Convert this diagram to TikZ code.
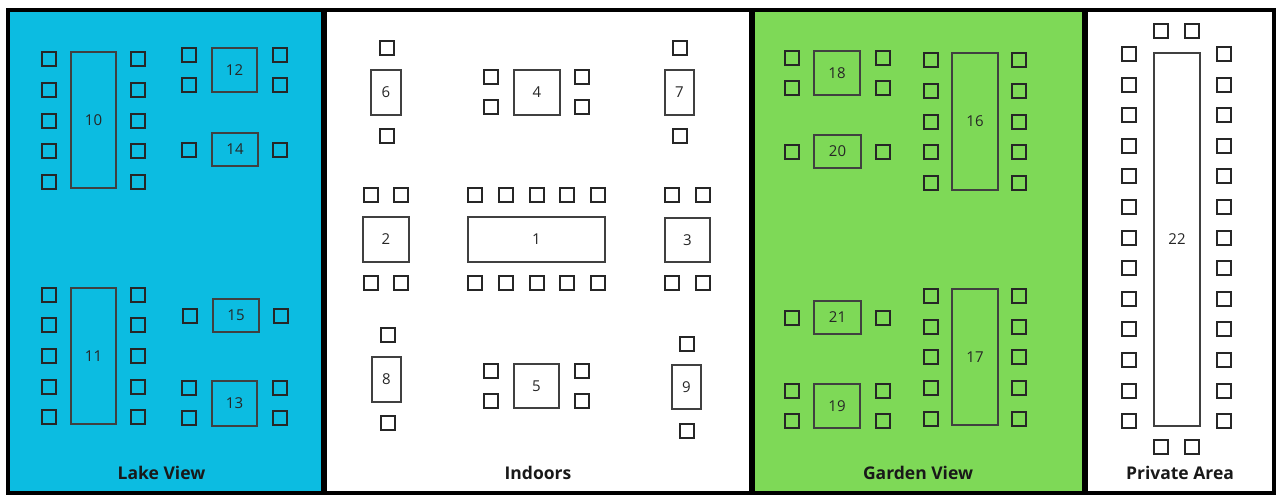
\documentclass[tikz,border=0pt]{standalone}
\usepackage{fontspec}
\setmainfont{Open Sans}
\tikzset{
  x=1pt,y=-1pt,
  panel/.style={draw=black,line width=4pt},
  lakepanel/.style={panel,fill=lakeblue},
  gardenpanel/.style={panel,fill=gardengreen},
  whitepanel/.style={panel,fill=white},
  chairbox/.style={draw=black!85,line width=1.6pt,minimum size=13.8pt,inner sep=0pt,outer sep=0pt},
  tablebox/.style={draw=black!75,line width=1.3pt,inner sep=0pt,outer sep=0pt,font=\fontsize{15}{17}\selectfont,text=black!85},
  arealabel/.style={inner sep=0pt,font=\fontsize{17.5}{20}\selectfont\bfseries,text=black!90}
}
\definecolor{lakeblue}{HTML}{0CBCE1}
\definecolor{gardengreen}{HTML}{7ED957}
\newcommand{\tbl}[5]{% name, x1, y1, x2, y2
  \node[tablebox,minimum width=#4pt-#2pt,minimum height=#5pt-#3pt] (t#1) at ({(#2+#4)/2},{(#3+#5)/2}) {#1};}
\newcommand{\chairs}[3]{% prefix, xlist, ylist
  \foreach \cx [count=\ci] in {#2} \foreach \cy [count=\cj] in {#3}
    \node[chairbox] (c#1-\ci-\cj) at (\cx,\cy) {};}
\begin{document}
\begin{tikzpicture}
\useasboundingbox (0,0) rectangle (1280,498);
\fill[white] (0,0) rectangle (1280,498);
\draw[lakepanel] (8,10) rectangle (323,493) ;
\draw[whitepanel] (325,10) rectangle (751,493);
\draw[gardenpanel] (753,10) rectangle (1084,493);
\draw[whitepanel] (1086,10) rectangle (1274,493);

% Lake View
\tbl{10}{71}{52}{116}{188}
\chairs{10}{49,138}{59,90,121,151,182}
\tbl{12}{212}{48}{257}{92}
\chairs{12}{189,280}{55,85}
\tbl{14}{212}{133}{258}{166}
\chairs{14}{189,280}{150}
\tbl{11}{71}{288}{116}{424}
\chairs{11}{49,138}{295,325,356,387,417}
\tbl{15}{213}{299}{259}{332}
\chairs{15}{190,281}{316}
\tbl{13}{212}{381}{257}{426}
\chairs{13}{189,280}{388,418}

% Indoors
\tbl{6}{371}{70}{401}{115}
\chairs{6}{387}{48,136}
\tbl{4}{514}{70}{560}{115}
\chairs{4}{491,582}{77,107}
\tbl{7}{665}{70}{694}{115}
\chairs{7}{680}{48,136}
\tbl{2}{363}{217}{409}{262}
\chairs{2}{371,401}{195,283}
\tbl{1}{468}{217}{605}{262}
\chairs{1}{475,506,537,567,598}{195,283}
\tbl{3}{665}{218}{710}{262}
\chairs{3}{672,703}{195,283}
\tbl{8}{372}{357}{401}{402}
\chairs{8}{388}{335,423}
\tbl{5}{514}{364}{559}{408}
\chairs{5}{491,582}{371,401}
\tbl{9}{672}{365}{701}{409}
\chairs{9}{687}{344,431}

% Garden View
\tbl{18}{814}{51}{860}{95}
\chairs{18}{792,883}{58,88}
\tbl{20}{814}{135}{861}{168}
\chairs{20}{792,883}{152}
\tbl{16}{952}{53}{998}{190}
\chairs{16}{931,1019}{60,91,122,152,183}
\tbl{21}{814}{301}{861}{334}
\chairs{21}{792,883}{318}
\tbl{19}{814}{384}{860}{428}
\chairs{19}{792,883}{391,421}
\tbl{17}{952}{289}{998}{425}
\chairs{17}{931,1019}{296,327,357,388,419}

% Private Area
\tbl{22}{1154}{53}{1200}{426}
\chairs{22}{1129,1224}{54,85,115,146,176,207,238,268,299,329,360,391,421}
\chairs{22t}{1161,1192}{31,447}

% Labels
\node[arealabel] (lakelabel) at (161.5,473) {Lake View};
\node[arealabel] (indoorlabel) at (538,473) {Indoors};
\node[arealabel] (gardenlabel) at (918,473) {Garden View};
\node[arealabel] (privatelabel) at (1180,473) {Private Area};
\end{tikzpicture}
\end{document}
